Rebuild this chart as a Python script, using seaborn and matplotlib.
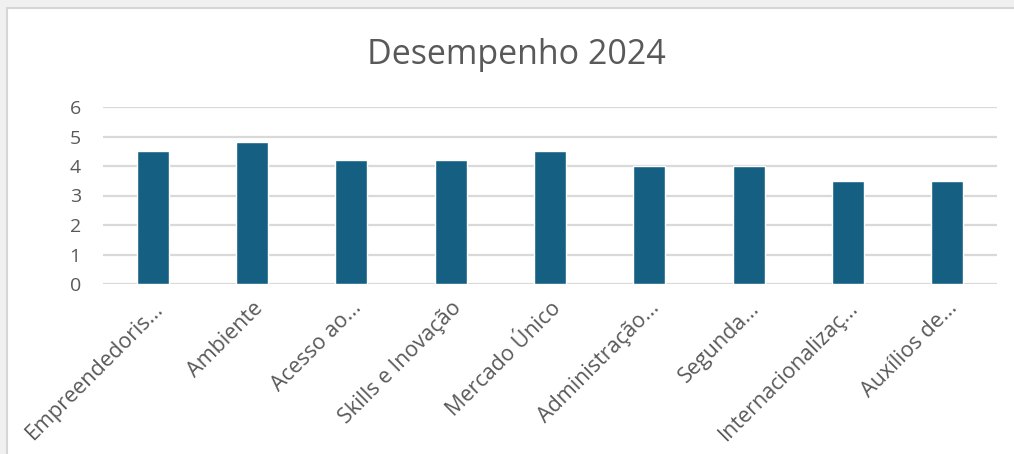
import matplotlib
matplotlib.use("Agg")
import matplotlib.pyplot as plt
import seaborn as sns
import pandas as pd
from matplotlib.patches import Rectangle

# Dados do gráfico
categorias = ["Empreendedoris...", "Ambiente", "Acesso ao...", "Skills e Inovação",
              "Mercado Único", "Administração...", "Segunda...",
              "Internacionalizaç...", "Auxílios de..."]
valores = [4.5, 4.8, 4.2, 4.2, 4.5, 4.0, 4.0, 3.5, 3.5]
titulo = "Desempenho 2024"

df = pd.DataFrame({"categoria": categorias, "valor": valores})

sns.set_style("white")
plt.rcParams["font.family"] = ["Open Sans", "DejaVu Sans"]
cor_texto = "#595959"

fig = plt.figure(figsize=(10.14, 4.54), dpi=100)
fig.patch.set_facecolor("#f0f0f0")
# moldura branca do gráfico
fig.patches.append(Rectangle((7 / 1014, -0.1), 1.1, (454 - 8) / 454 + 0.1,
                             transform=fig.transFigure, facecolor="white",
                             edgecolor="#d6d6d6", linewidth=1.5, zorder=-5))

ax = fig.add_axes([103 / 1014, 1 - 284 / 454, (997 - 103) / 1014, (284 - 107) / 454])
ax.set_zorder(2)
ax.patch.set_alpha(0)
sns.barplot(data=df, x="categoria", y="valor", color="#156082", width=0.32,
            saturation=1, ax=ax, zorder=3)

ax.set_ylim(0, 6)
ax.set_xlim(-0.5, len(categorias) - 0.5)
ax.set_yticks(range(0, 7))
ax.yaxis.grid(True, color="#d9d9d9", linewidth=1.6, zorder=0)
ax.set_axisbelow(True)
for s in ax.spines.values():
    s.set_visible(False)
ax.set_xlabel("")
ax.set_ylabel("")
ax.tick_params(axis="y", length=0, pad=16, labelsize=14, labelcolor=cor_texto)
ax.tick_params(axis="x", length=0, pad=10, labelsize=15.5, labelcolor=cor_texto)
plt.setp(ax.get_xticklabels(), rotation=45, ha="right", va="top",
         rotation_mode="anchor")

fig.text(516 / 1014, 1 - 55 / 454, titulo, ha="center", va="center",
         fontsize=24.5, color=cor_texto, zorder=3)

fig.savefig("out.png", dpi=100, facecolor=fig.get_facecolor())
